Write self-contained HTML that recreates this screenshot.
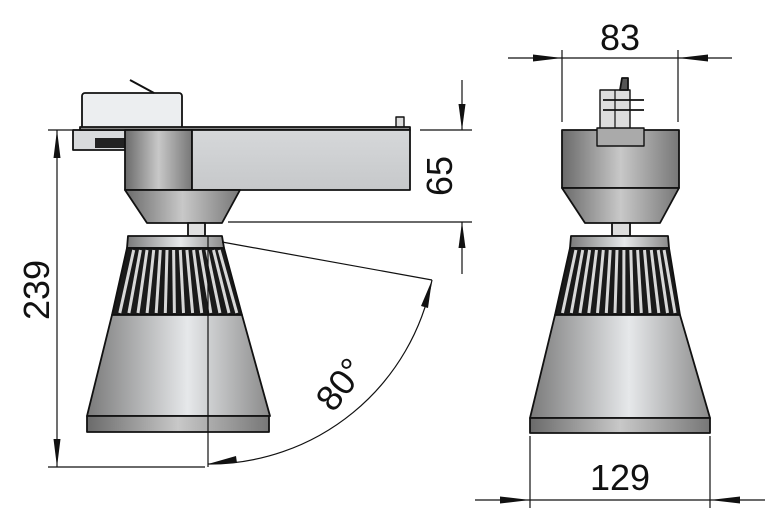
<!DOCTYPE html>
<html><head><meta charset="utf-8"><style>
html,body{margin:0;padding:0;background:#fff;}
svg{display:block;}
text{font-family:"Liberation Sans","DejaVu Sans",sans-serif;fill:#111;}
</style></head><body>
<svg width="768" height="515" viewBox="0 0 768 515" xmlns="http://www.w3.org/2000/svg">
<defs>
<linearGradient id="g" x1="0" x2="1" y1="0" y2="0">
<stop offset="0" stop-color="#7a7a7a"/><stop offset="0.55" stop-color="#e6e8ea"/><stop offset="1" stop-color="#8a8a8a"/>
</linearGradient>
<linearGradient id="gd" x1="0" x2="1" y1="0" y2="0">
<stop offset="0" stop-color="#6a6a6a"/><stop offset="0.5" stop-color="#c8c8c8"/><stop offset="1" stop-color="#777"/>
</linearGradient>
<linearGradient id="arm" x1="0" x2="0" y1="0" y2="1">
<stop offset="0" stop-color="#d6d8da"/><stop offset="1" stop-color="#c6c8ca"/>
</linearGradient>
</defs>
<g stroke="#111" stroke-width="1.8" stroke-linejoin="round">
<rect x="82" y="93" width="100" height="36" rx="3" fill="#eceef0"/>
<line x1="130" y1="80" x2="154" y2="93" stroke-width="2"/>
<rect x="73" y="130" width="57" height="20" fill="#d8dadc"/>
<rect x="95" y="138" width="30" height="10" fill="#222" stroke="none"/>
<rect x="396" y="117" width="8" height="11" fill="#ddd" stroke-width="1.4"/>
<rect x="80" y="127" width="330" height="3" fill="#888"/>
<rect x="125" y="130" width="67" height="60" fill="url(#gd)"/>
<rect x="192" y="130" width="218" height="60" fill="url(#arm)"/>
<polygon points="125,190 240,190 222,223 147,223" fill="url(#gd)"/>
<rect x="188" y="223" width="17" height="13" fill="#e0e0e0"/>
<polygon points="128,236 222,236 224,248 127,248" fill="url(#g)"/>
<polygon points="127,248 224,248 242,315 112,315" fill="#1a1a1a"/>
<polygon points="112,315 242,315 270,416 87,416" fill="url(#g)"/>
<rect x="87" y="416" width="182" height="16" fill="url(#gd)"/>
<rect x="600" y="90" width="30" height="40" fill="#ddd" stroke-width="1.4"/>
<polygon points="622,78 628,78 628,90 620,90" fill="#555"/>
<line x1="615" y1="90" x2="615" y2="130" stroke-width="1.2"/>
<line x1="603" y1="100" x2="644" y2="100"/><line x1="603" y1="110" x2="644" y2="110"/>
<rect x="562" y="130" width="117" height="58" fill="url(#gd)"/>
<rect x="597" y="128" width="47" height="18" fill="#aaa" stroke-width="1.4"/>
<polygon points="562,188 679,188 660,223 585,223" fill="url(#gd)"/>
<rect x="612" y="223" width="18" height="13" fill="#ddd"/>
<polygon points="571,236 668,236 669,248 570,248" fill="url(#g)"/>
<polygon points="570,248 669,248 680,315 555,315" fill="#1a1a1a"/>
<polygon points="555,315 680,315 710,418 530,418" fill="url(#g)"/>
<rect x="530" y="418" width="180" height="15" fill="url(#gd)"/>
</g>
<g stroke="#d8d8d8" stroke-width="3">
<line x1="133.7" y1="250" x2="119.8" y2="313"/><line x1="140.4" y1="250" x2="128.9" y2="313"/><line x1="147" y1="250" x2="138" y2="313"/><line x1="153.7" y1="250" x2="147.1" y2="313"/><line x1="160.3" y1="250" x2="156.2" y2="313"/><line x1="167" y1="250" x2="165.3" y2="313"/><line x1="173.6" y1="250" x2="174.4" y2="313"/><line x1="180.3" y1="250" x2="183.5" y2="313"/><line x1="186.9" y1="250" x2="192.6" y2="313"/><line x1="193.6" y1="250" x2="201.7" y2="313"/><line x1="200.2" y1="250" x2="210.8" y2="313"/><line x1="206.9" y1="250" x2="219.9" y2="313"/><line x1="213.5" y1="250" x2="229" y2="313"/><line x1="219.2" y1="250" x2="236.8" y2="313"/>
<line x1="575.9" y1="250" x2="562.5" y2="313"/><line x1="582.7" y1="250" x2="571.3" y2="313"/><line x1="589.6" y1="250" x2="580" y2="313"/><line x1="596.5" y1="250" x2="588.8" y2="313"/><line x1="603.3" y1="250" x2="597.5" y2="313"/><line x1="610.2" y1="250" x2="606.3" y2="313"/><line x1="617" y1="250" x2="615" y2="313"/><line x1="623.9" y1="250" x2="623.8" y2="313"/><line x1="630.8" y1="250" x2="632.5" y2="313"/><line x1="637.6" y1="250" x2="641.3" y2="313"/><line x1="644.5" y1="250" x2="650" y2="313"/><line x1="651.3" y1="250" x2="658.8" y2="313"/><line x1="658.2" y1="250" x2="667.5" y2="313"/><line x1="664.1" y1="250" x2="675" y2="313"/>
</g>
<g stroke="#111" stroke-width="1.2" fill="none">
<line x1="48" y1="130" x2="82" y2="130"/>
<line x1="48" y1="467" x2="205" y2="467"/>
<line x1="57" y1="130" x2="57" y2="467"/>
<line x1="208" y1="236" x2="208" y2="467"/>
<line x1="222" y1="242" x2="432" y2="280"/>
<path d="M432,280 A227,227 0 0 1 208,464"/>
<line x1="420" y1="130" x2="472" y2="130"/>
<line x1="228" y1="222" x2="472" y2="222"/>
<line x1="462" y1="80" x2="462" y2="130"/>
<line x1="462" y1="222" x2="462" y2="274"/>
<line x1="508" y1="58" x2="732" y2="58"/>
<line x1="562" y1="50" x2="562" y2="122"/>
<line x1="678" y1="50" x2="678" y2="122"/>
<line x1="475" y1="500" x2="765" y2="500"/>
<line x1="530" y1="436" x2="530" y2="508"/>
<line x1="710" y1="436" x2="710" y2="508"/>
</g>
<g fill="#111">
<polygon points="57,130 53.5,158 60.5,158"/>
<polygon points="57,467 53.5,439 60.5,439"/>
<polygon points="462,130 458.5,104 465.5,104"/>
<polygon points="462,222 458.5,248 465.5,248"/>
<polygon points="562,58 533,54.5 533,61.5"/>
<polygon points="678,58 708,54.5 708,61.5"/>
<polygon points="530,500 500,496.5 500,503.5"/>
<polygon points="710,500 740,496.5 740,503.5"/>
<polygon points="432,280 421,306 428,308"/>
<polygon points="208,464 236,456 237,463"/>
</g>
<text x="620" y="50" font-size="36" text-anchor="middle">83</text>
<text x="620" y="490" font-size="36" text-anchor="middle">129</text>
<text transform="translate(452,176) rotate(-90)" font-size="36" text-anchor="middle">65</text>
<text transform="translate(49,290) rotate(-90)" font-size="36" text-anchor="middle">239</text>
<text transform="translate(350,392) rotate(-52)" font-size="36" text-anchor="middle">80°</text>
</svg>
</body></html>
